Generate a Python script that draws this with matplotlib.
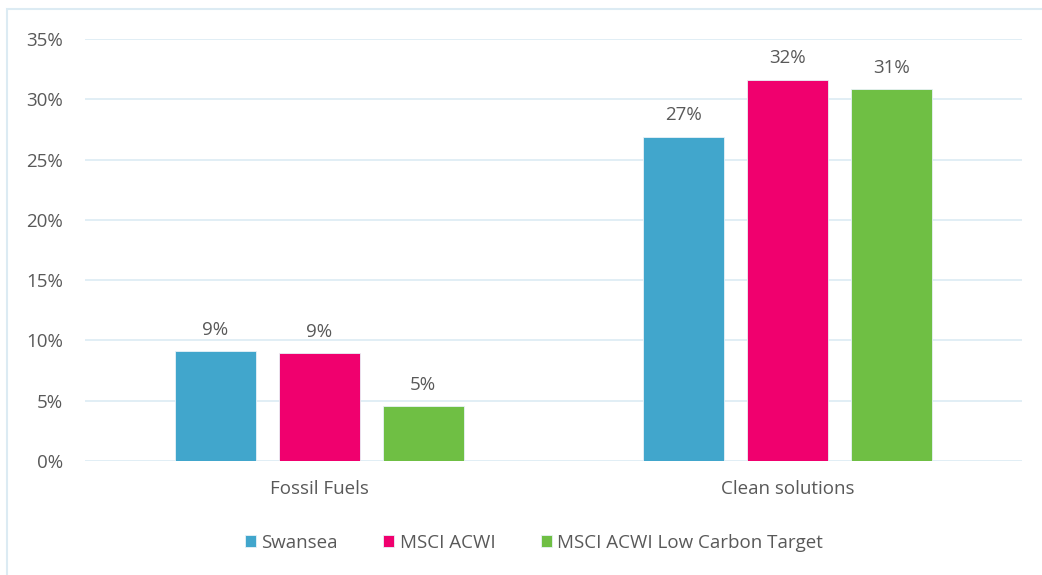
import matplotlib
matplotlib.use("Agg")
import matplotlib.pyplot as plt
from matplotlib.patches import Rectangle
from matplotlib.ticker import FuncFormatter
import numpy as np

categories = ["Fossil Fuels", "Clean solutions"]
series_names = ["Swansea", "MSCI ACWI", "MSCI ACWI Low Carbon Target"]
swansea = [9.1, 26.9]
msci_acwi = [8.95, 31.6]
low_carbon = [4.55, 30.85]
value_labels = [["9%", "27%"], ["9%", "32%"], ["5%", "31%"]]
colors = ["#41A6CC", "#F0006E", "#6FBF44"]
yticks = [0, 5, 10, 15, 20, 25, 30, 35]

plt.rcParams['font.family'] = ['Open Sans', 'DejaVu Sans']
FS = 13.5

fig = plt.figure(figsize=(10.42, 5.75), dpi=100)
W, H = 1042, 575
ax = fig.add_axes([85 / W, 1 - 461 / H, 937 / W, (461 - 39) / H])

# outer chart border
fig.patches.append(Rectangle((7 / W, -0.1), 1.2, 1 - 9 / H + 0.1, transform=fig.transFigure,
                             fill=False, edgecolor="#DCEBF3", linewidth=1.5, zorder=0))

x = np.arange(len(categories))
width = 0.173
offsets = [-0.222, 0.0, 0.222]
data = [swansea, msci_acwi, low_carbon]
for i, (vals, name, col, labs) in enumerate(zip(data, series_names, colors, value_labels)):
    bars = ax.bar(x + offsets[i], vals, width, color=col, label=name,
                  edgecolor="#E8F2F7", linewidth=0.6, zorder=3)
    for b, lab in zip(bars, labs):
        ax.annotate(lab, (b.get_x() + b.get_width() / 2, b.get_height()),
                    xytext=(0, 9), textcoords="offset points", ha="center", va="bottom",
                    fontsize=FS, color="#595959")

ax.set_xlim(-0.5, 1.5)
ax.set_ylim(0, 35)
ax.set_yticks(yticks)
ax.yaxis.set_major_formatter(FuncFormatter(lambda v, p: f"{int(v)}%"))
ax.set_xticks(x)
ax.set_xticklabels(categories)
ax.tick_params(axis="both", length=0, labelsize=FS, colors="#595959")
ax.tick_params(axis="y", pad=16)
ax.tick_params(axis="x", pad=14)
ax.grid(axis="y", color="#DCEBF3", linewidth=1.2, zorder=0)
ax.set_axisbelow(True)
for s in ax.spines.values():
    s.set_visible(False)

leg = fig.legend(loc="center", bbox_to_anchor=(534 / W, 1 - 543 / H), ncol=3, frameon=False,
                 fontsize=FS, handlelength=0.6, handleheight=0.6, handletextpad=0.3,
                 columnspacing=2.4, labelcolor="#595959")

fig.savefig("out.png", dpi=100)
